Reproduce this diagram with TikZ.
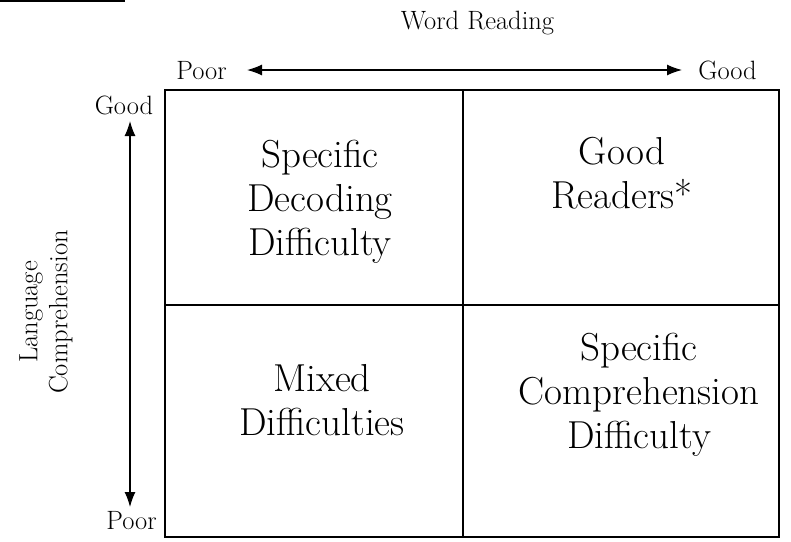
\documentclass[tikz,border=0pt]{standalone}
\usetikzlibrary{arrows.meta}
\begin{document}
\begin{tikzpicture}[x=1pt,y=-1pt,
  lbl/.style={font=\fontsize{26.5}{30}\selectfont, inner sep=0pt},
  cell/.style={font=\fontsize{39}{44}\selectfont, align=center, inner sep=0pt},
  axis/.style={line width=1.3pt, {Latex[length=15pt,width=11pt]}-{Latex[length=15pt,width=11pt]}},
  grid/.style={line width=1.1pt}]
\useasboundingbox (0,0) rectangle (791,541);
% scan edge
\draw[line width=1.5pt] (0,0.8) -- (125,0.8);
% frame
\coordinate (tl) at (165,90);
\coordinate (br) at (779,537);
\draw[grid] (tl) rectangle (br);
\draw[grid] (463,90) -- (463,537);
\draw[grid] (165,305) -- (779,305);
% axis labels
\node[lbl, anchor=base] (wr) at (477.5,29) {Word Reading};
\node[lbl, anchor=base] (xpoor) at (201.5,79) {Poor};
\node[lbl, anchor=base] (xgood) at (727.5,79) {Good};
\node[lbl, anchor=base] (ygood) at (124,114) {Good};
\node[lbl, anchor=base] (ypoor) at (131.5,529) {Poor};
\node[lbl, rotate=90, align=center] (lc) at (46,312) {Language\\Comprehension};
% arrows
\coordinate (xa) at (247,70);
\coordinate (xb) at (682,70);
\coordinate (ya) at (130,121);
\coordinate (yb) at (130,507);
\draw[axis] (xa) -- (xb);
\draw[axis] (ya) -- (yb);
% cells
\node[cell] (sdd) at (320,201.3) {Specific\\Decoding\\Difficulty};
\node[cell] (gr) at (622,173) {Good\\Readers*};
\node[cell] (md) at (322,400.5) {Mixed\\Difficulties};
\node[cell] (scd) at (639,394.3) {Specific\\Comprehension\\Difficulty};
\end{tikzpicture}
\end{document}
